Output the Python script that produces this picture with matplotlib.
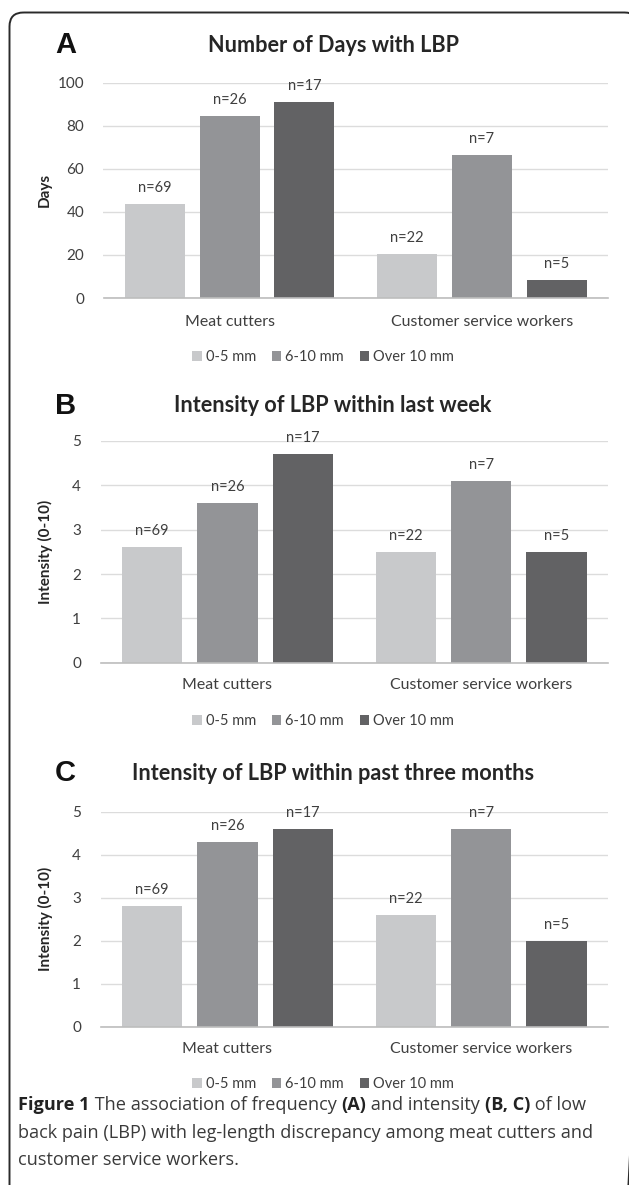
import matplotlib
matplotlib.use("Agg")
import matplotlib.pyplot as plt
from matplotlib.patches import FancyBboxPatch, Patch
import numpy as np

# ---------------- data ----------------
groups = ["Meat cutters", "Customer service workers"]
series = ["0-5 mm", "6-10 mm", "Over 10 mm"]
days_0_5 = [43.5, 20.5]
days_6_10 = [84.3, 66.2]
days_over10 = [91.0, 8.3]
week_0_5 = [2.6, 2.5]
week_6_10 = [3.6, 4.1]
week_over10 = [4.7, 2.5]
months_0_5 = [2.8, 2.6]
months_6_10 = [4.3, 4.6]
months_over10 = [4.6, 2.0]
n_labels_0_5 = ["n=69", "n=22"]
n_labels_6_10 = ["n=26", "n=7"]
n_labels_over10 = ["n=17", "n=5"]
titles = ["Number of Days with LBP", "Intensity of LBP within last week",
          "Intensity of LBP within past three months"]
panel_letters = ["A", "B", "C"]
ylabels = ["Days", "Intensity (0-10)", "Intensity (0-10)"]
yticks_A = [0, 20, 40, 60, 80, 100]
yticks_BC = [0, 1, 2, 3, 4, 5]

colors = ["#C8C9CB", "#939497", "#626264"]
FONT = "Lato"
TXT = "#3F3F3F"

W, H = 629, 1185
fig = plt.figure(figsize=(W / 100, H / 100), dpi=100)
fig.patch.set_facecolor("white")

# background overlay in pixel coordinates
bg = fig.add_axes([0, 0, 1, 1], zorder=-1)
bg.set_xlim(0, W)
bg.set_ylim(H, 0)
bg.axis("off")
bg.add_patch(FancyBboxPatch((9.5, 12.5), 629, 1200,
                            boxstyle="round,pad=0,rounding_size=14",
                            lw=1.4, ec="#2A2A2A", fc="none", clip_on=True))


def px_axes(x0, x1, ytop, ybot):
    return fig.add_axes([x0 / W, 1 - ybot / H, (x1 - x0) / W, (ybot - ytop) / H])


panels = [
    dict(box=(103.5, 607.7, 82.5, 298), vals=(days_0_5, days_6_10, days_over10),
         ylim=(0, 100), yticks=yticks_A, title_y=45, xlab_y=322, leg_y=357),
    dict(box=(100.5, 608, 441, 662.7), vals=(week_0_5, week_6_10, week_over10),
         ylim=(0, 5), yticks=yticks_BC, title_y=406, xlab_y=685, leg_y=721),
    dict(box=(100.5, 608, 811.7, 1026.7), vals=(months_0_5, months_6_10, months_over10),
         ylim=(0, 5), yticks=yticks_BC, title_y=773, xlab_y=1049, leg_y=1084),
]
labels_all = (n_labels_0_5, n_labels_6_10, n_labels_over10)

x = np.arange(len(groups))
bw = 0.238
step = 0.297

for i, p in enumerate(panels):
    ax = px_axes(*p["box"])
    ax.set_facecolor("none")
    for k, (vals, lab) in enumerate(zip(p["vals"], labels_all)):
        bars = ax.bar(x + (k - 1) * step, vals, width=bw, color=colors[k], zorder=3)
        for b, t in zip(bars, lab):
            ax.annotate(t, (b.get_x() + b.get_width() / 2, b.get_height()),
                        xytext=(0, 6.5), textcoords="offset points",
                        ha="center", va="bottom", fontsize=10.5, family=FONT,
                        color=TXT, zorder=4)
    ax.set_xlim(-0.5, 1.5)
    ax.set_ylim(*p["ylim"])
    ax.set_yticks(p["yticks"])
    ax.set_xticks([])
    ax.yaxis.grid(True, color="#DCDCDC", lw=1.0, zorder=0)
    for s in ["top", "right", "left"]:
        ax.spines[s].set_visible(False)
    ax.spines["bottom"].set_color("#BDBDBD")
    ax.spines["bottom"].set_linewidth(1.2)
    ax.spines["bottom"].set_zorder(5)
    ax.tick_params(axis="y", length=0, pad=14, labelsize=11, labelcolor=TXT)
    for t in ax.get_yticklabels():
        t.set_family(FONT)
    # category labels
    x0, x1 = p["box"][0], p["box"][1]
    for g, name in enumerate(groups):
        cx = x0 + (x1 - x0) * (g + 0.5) / len(groups)
        bg.text(cx, p["xlab_y"], name, ha="center", va="center", fontsize=11.4,
                family=FONT, color=TXT)
    # y label
    bg.text(45, (p["box"][2] + p["box"][3]) / 2, ylabels[i], rotation=90,
            ha="center", va="center", fontsize=11, fontweight="bold",
            family=FONT, color="#262626")
    # title + letter
    bg.text(333, p["title_y"], titles[i], ha="center", va="center", fontsize=15.6,
            fontweight="bold", family=FONT, color="#262626")
    bg.text(55, p["title_y"], panel_letters[i], ha="left", va="center", fontsize=21,
            fontweight="bold", family="Liberation Sans", color="#111111")
    # legend
    handles = [Patch(facecolor=c, edgecolor="none") for c in colors]
    fig.legend(handles, series, loc="center", bbox_to_anchor=(323 / W, 1 - p["leg_y"] / H),
               ncol=3, frameon=False, handlelength=0.65, handleheight=0.65,
               handletextpad=0.25, columnspacing=1.1,
               prop={"family": FONT, "size": 10.5}, labelcolor=TXT)

# ---------------- caption ----------------
renderer = fig.canvas.get_renderer()
CAP_FONT = "Open Sans"
cap_lines = [
    [("Figure 1", "bold"), (" The association of frequency ", "normal"), ("(A)", "bold"),
     (" and intensity ", "normal"), ("(B, C)", "bold"), (" of low", "normal")],
    [("back pain (LBP) with leg-length discrepancy among meat cutters and", "normal")],
    [("customer service workers.", "normal")],
]
cap_y = [1105, 1133, 1160]
cap_x0 = 18
target_w = 572

probe = bg.text(0, 0, cap_lines[1][0][0], fontsize=12, family=CAP_FONT)
pw = probe.get_window_extent(renderer).width
probe.remove()
cap_size = 12 * target_w / pw

for line, yy in zip(cap_lines, cap_y):
    xx = cap_x0
    for seg, wt in line:
        t = bg.text(xx, yy, seg, ha="left", va="center", fontsize=cap_size,
                    fontweight=wt, family=CAP_FONT,
                    color="#222222" if wt == "bold" else "#3A3A3A")
        xx += t.get_window_extent(renderer).width

fig.savefig("out.png", dpi=100, facecolor="white")
